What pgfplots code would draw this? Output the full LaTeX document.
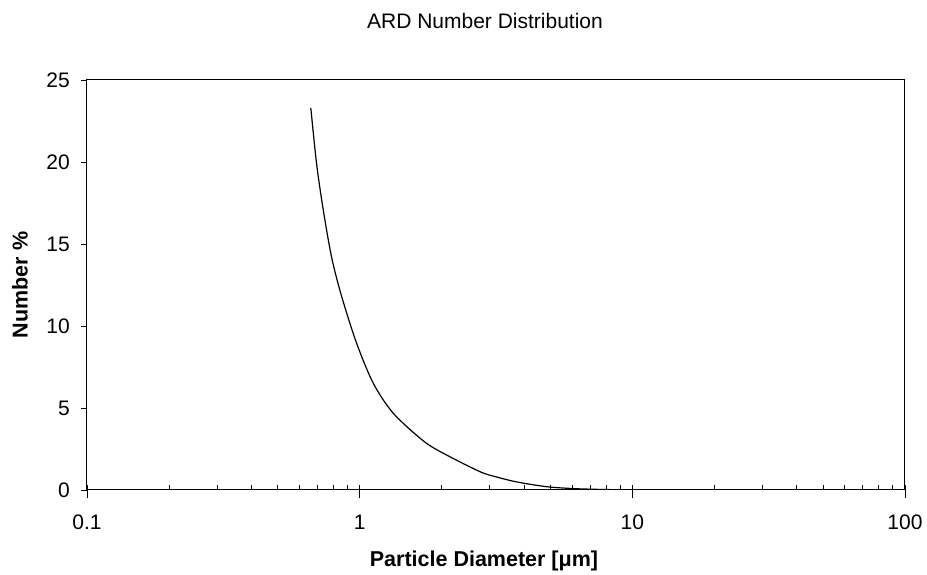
\documentclass[border=0pt]{standalone}
\usepackage{pgfplots}
\pgfplotsset{compat=1.18}
\usepackage{fontspec}
\setmainfont{Liberation Sans}
\begin{document}
\begin{tikzpicture}
\path[use as bounding box] (-87pt,-85pt) rectangle (840pt,490pt);
\begin{axis}[
  xmode=log,
  scale only axis,
  width=818pt, height=410pt,
  xmin=0.1, xmax=100,
  ymin=0, ymax=25,
  ytick={0,5,10,15,20,25},
  xtick={0.1,1,10,100},
  xticklabels={0.1,1,10,100},
  minor xtick={0.2,0.3,0.4,0.5,0.6,0.7,0.8,0.9,2,3,4,5,6,7,8,9,20,30,40,50,60,70,80,90},
  log basis x=10,
  xtick pos=bottom, ytick pos=left,
  tick align=inside,
  major tick length=13pt,
  minor tick length=5pt,
  major x tick style={yshift=-8pt, black, line width=0.8pt},
  minor x tick style={black, line width=0.6pt},
  major y tick style={xshift=-6pt, black, line width=0.8pt},
  ytick style={/pgfplots/major tick length=6pt},
  axis line style={line width=1pt, black},
  /pgf/number format/assume math mode=true,
  ticklabel style={font=\fontsize{21}{25}\selectfont},
  xticklabel style={anchor=base, yshift=-40pt, inner sep=0pt},
  yticklabel style={anchor=east, inner sep=0pt, xshift=-17pt},
  xlabel={\textbf{Particle Diameter [μm]}},
  ylabel={\textbf{Number \%}},
  xlabel style={at={(rel axis cs:0.5,0)}, anchor=center, yshift=-71pt, xshift=-12pt, font=\fontsize{21.5}{25}\selectfont},
  ylabel style={at={(rel axis cs:0,0.5)}, anchor=center, yshift=67pt, font=\fontsize{21.5}{25}\selectfont},
  title={ARD Number Distribution},
  title style={at={(rel axis cs:0.5,1)}, anchor=center, yshift=53pt, xshift=-11pt, font=\fontsize{21}{25}\selectfont},
]
\addplot[black, line width=1.2pt, smooth, tension=0.5] coordinates {
(0.662,23.3)
(0.695,19.9)
(0.735,17.1)
(0.789,14.2)
(0.859,11.8)
(0.975,8.94)
(1.122,6.51)
(1.328,4.68)
(1.711,3.0)
(2.026,2.24)
(2.76,1.12)
(3.2,0.78)
(3.8,0.48)
(4.85,0.2)
(6,0.09)
(7,0.05)
(8.5,0.02)
(10,0.01)
(14,0.003)
(20,0.0)
};
\end{axis}
\end{tikzpicture}
\end{document}
